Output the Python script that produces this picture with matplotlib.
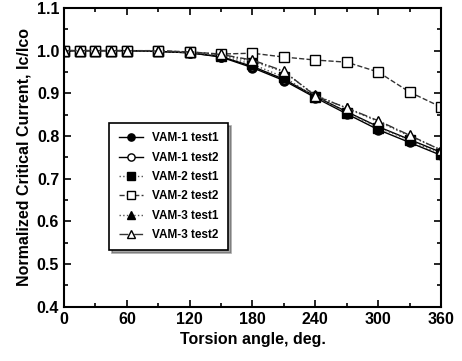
import numpy as np
from matplotlib import pyplot as plt
from matplotlib.ticker import MultipleLocator

plt.rcParams['font.family'] = ['Liberation Sans', 'DejaVu Sans']
plt.rcParams['font.weight'] = 'bold'

angles = [0, 15, 30, 45, 60, 90, 120, 150, 180, 210, 240, 270, 300, 330, 360]

vam1_t1 = [1.0, 1.0, 1.0, 1.0, 1.0, 0.998, 0.995, 0.985, 0.960, 0.930, 0.890, 0.852, 0.815, 0.785, 0.755]
vam1_t2 = [1.0, 1.0, 1.0, 1.0, 1.0, 0.998, 0.995, 0.986, 0.963, 0.933, 0.893, 0.857, 0.822, 0.792, 0.762]
vam2_t1 = [1.0, 1.0, 1.0, 1.0, 1.0, 0.998, 0.996, 0.988, 0.968, 0.938, 0.892, 0.855, 0.820, 0.790, 0.757]
vam2_t2 = [1.0, 1.0, 1.0, 1.0, 1.0, 1.0, 0.997, 0.992, 0.994, 0.985, 0.978, 0.973, 0.950, 0.903, 0.868]
vam3_t1 = [1.0, 1.0, 1.0, 1.0, 1.0, 0.998, 0.997, 0.990, 0.975, 0.950, 0.896, 0.865, 0.834, 0.800, 0.768]
vam3_t2 = [1.0, 1.0, 1.0, 1.0, 1.0, 0.999, 0.997, 0.991, 0.978, 0.952, 0.894, 0.866, 0.836, 0.802, 0.767]

labels = ["VAM-1 test1", "VAM-1 test2", "VAM-2 test1", "VAM-2 test2", "VAM-3 test1", "VAM-3 test2"]

fig = plt.figure(figsize=(4.62, 3.61), dpi=100)
ax = fig.add_axes([0.1385, 0.15, 0.816, 0.828])

ms = 6.5
ax.plot(angles, vam1_t1, color='black', lw=1.0, ls='-', marker='o', ms=ms, mfc='black', label=labels[0])
ax.plot(angles, vam1_t2, color='black', lw=1.0, ls='-', marker='o', ms=ms, mfc='white', label=labels[1])
ax.plot(angles, vam2_t1, color='#555555', lw=1.0, ls=':', marker='s', ms=ms, mfc='black', mec='black', label=labels[2])
ax.plot(angles, vam2_t2, color='#333333', lw=1.0, ls='--', marker='s', ms=ms, mfc='white', mec='black', label=labels[3])
ax.plot(angles, vam3_t1, color='#555555', lw=1.0, ls=':', marker='^', ms=ms, mfc='black', mec='black', label=labels[4])
ax.plot(angles, vam3_t2, color='#333333', lw=1.0, ls='-.', marker='^', ms=ms, mfc='white', mec='black', label=labels[5])

ax.set_xlim(0, 360)
ax.set_ylim(0.4, 1.1)
ax.xaxis.set_major_locator(MultipleLocator(60))
ax.xaxis.set_minor_locator(MultipleLocator(30))
ax.yaxis.set_major_locator(MultipleLocator(0.1))
ax.yaxis.set_minor_locator(MultipleLocator(0.05))
ax.tick_params(which='both', direction='in', top=True, right=True, labelsize=11.5, width=1.2)
ax.tick_params(which='major', length=5)
ax.tick_params(which='minor', length=3)
for s in ax.spines.values():
    s.set_linewidth(1.5)

ax.set_xlabel("Torsion angle, deg.", fontsize=11.5, fontweight='bold')
ax.set_ylabel("Normalized Critical Current, Ic/Ico", fontsize=11.5, fontweight='bold')

leg = ax.legend(loc='upper left', bbox_to_anchor=(0.105, 0.635), fontsize=8.5, frameon=True,
                fancybox=False, shadow=True, edgecolor='black', handlelength=2.0,
                markerscale=0.8, labelspacing=0.62, borderpad=0.8)
leg.get_frame().set_linewidth(1.2)

fig.savefig("out.png", dpi=100)
